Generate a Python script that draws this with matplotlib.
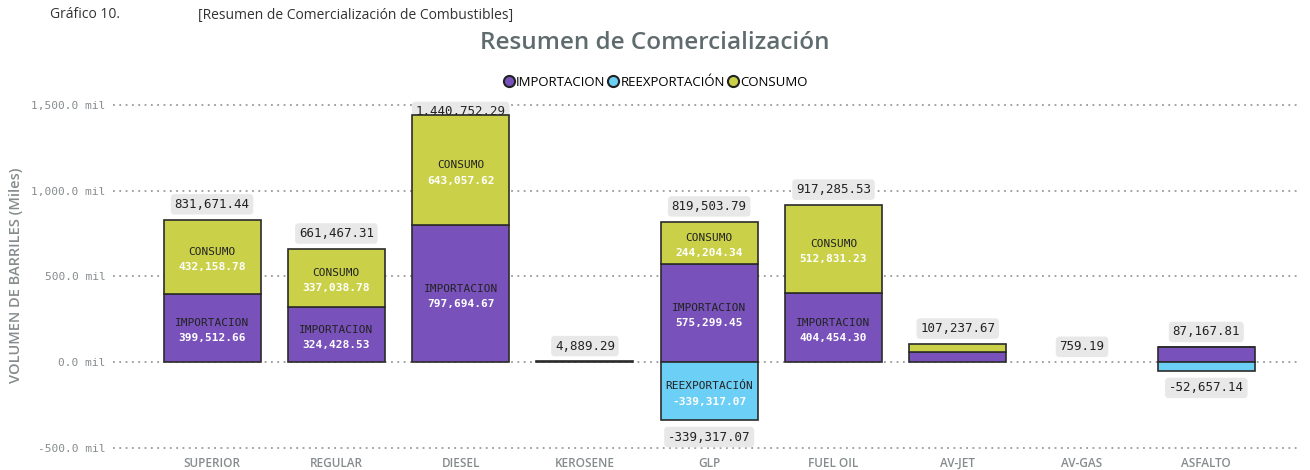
import matplotlib
matplotlib.use("Agg")
import matplotlib.pyplot as plt
from matplotlib.lines import Line2D
from matplotlib.ticker import FuncFormatter
import numpy as np

# data (barriles)
categorias = ["SUPERIOR", "REGULAR", "DIESEL", "KEROSENE", "GLP", "FUEL OIL", "AV-JET", "AV-GAS", "ASFALTO"]
importacion = [399512.66, 324428.53, 797694.67, 0.0, 575299.45, 404454.30, 59000.0, 0.0, 86000.0]
consumo = [432158.78, 337038.78, 643057.62, 4889.29, 244204.34, 512831.23, 48237.67, 759.19, 1167.81]
reexportacion = [0.0, 0.0, 0.0, 0.0, -339317.07, 0.0, 0.0, 0.0, -52657.14]
y_ticks = [-500000, 0, 500000, 1000000, 1500000]

c_imp = "#7851ba"
c_reex = "#6ccff6"
c_cons = "#cad148"
edge = "#2b2b2b"
grey = "#868b8d"
mono = "DejaVu Sans Mono"
sans = "Open Sans"

fig = plt.figure(figsize=(13.1, 4.7), dpi=100)
ax = fig.add_axes([0.086, 0.0396, 0.906, 0.748])

x = np.arange(len(categorias))
w = 0.78
imp = np.array(importacion)
cons = np.array(consumo)
reex = np.array(reexportacion)

# no edge on empty / tiny segments
def edges(vals):
    return [edge if abs(v) > 1000 else "none" for v in vals]

ax.bar(x, imp, w, color=c_imp, edgecolor=edges(imp), linewidth=1.2, zorder=3)
ax.bar(x, cons, w, bottom=imp, color=c_cons, edgecolor=edges(cons), linewidth=1.2, zorder=3)
ax.bar(x, reex, w, color=c_reex, edgecolor=edges(reex), linewidth=1.2, zorder=3)

# segment labels (only big enough segments)
def seg_label(xi, y0, h, name, val):
    if abs(h) < 150000:
        return
    yc = y0 + h / 2
    ax.annotate(name, (xi, yc), xytext=(0, 3.5), textcoords="offset points",
                ha="center", va="center", fontsize=8, family=mono, color="#222222", zorder=5)
    ax.annotate(f"{val:,.2f}", (xi, yc), xytext=(0, -7.5), textcoords="offset points",
                ha="center", va="center", fontsize=8, family=mono, color="white",
                fontweight="bold", zorder=5)

for i in range(len(categorias)):
    seg_label(x[i], 0, imp[i], "IMPORTACION", imp[i])
    seg_label(x[i], imp[i], cons[i], "CONSUMO", cons[i])
    seg_label(x[i], 0, reex[i], "REEXPORTACIÓN", reex[i])

box = dict(boxstyle="round,pad=0.3", fc="#e8e8e8", ec="none")
totales = imp + cons
for i in range(len(categorias)):
    y_lab = min(totales[i], 1370000)
    ax.annotate(f"{totales[i]:,.2f}", (x[i], y_lab), xytext=(0, 11), textcoords="offset points",
                ha="center", va="center", fontsize=9, family=mono, color="#222222",
                bbox=box, zorder=2)
    if reex[i] < 0:
        ax.annotate(f"{reex[i]:,.2f}", (x[i], reex[i]), xytext=(0, -12), textcoords="offset points",
                    ha="center", va="center", fontsize=9, family=mono, color="#222222",
                    bbox=box, zorder=2)

ax.set_xlim(-0.8, 8.75)
ax.set_ylim(-520000, 1530000)
ax.set_yticks(y_ticks)
ax.yaxis.set_major_formatter(FuncFormatter(lambda v, p: f"{v/1000:,.1f} mil"))
ax.set_xticks(x)
ax.set_xticklabels(categorias)
for t in ax.get_yticklabels():
    t.set_fontfamily(mono)
    t.set_fontsize(8)
    t.set_color(grey)
for t in ax.get_xticklabels():
    t.set_fontfamily(sans)
    t.set_fontsize(8.5)
    t.set_color(grey)
    t.set_fontweight("semibold")
ax.tick_params(length=0, pad=5)
ax.tick_params(axis="x", pad=4)
ax.grid(axis="y", color="#9a9a9a", linestyle=(0, (1, 2.5)), linewidth=1.3, zorder=0)
ax.set_axisbelow(True)
for s in ax.spines.values():
    s.set_visible(False)

ax.set_ylabel("VOLUMEN DE BARRILES (Miles)", fontsize=10.5, family=sans, color=grey,
              fontweight="semibold", labelpad=6)

fig.text(50 / 1310, 1 - 15 / 470, "Gráfico 10.", fontsize=10, family=sans, color="#333333", va="center")
fig.text(198 / 1310, 1 - 15 / 470, "[Resumen de Comercialización de Combustibles]", fontsize=10,
         family=sans, color="#333333", va="center")
fig.text(0.5, 1 - 43 / 470, "Resumen de Comercialización", fontsize=17.5, family=sans,
         color="#5f6b6d", fontweight="semibold", ha="center", va="center")

handles = [Line2D([], [], marker="o", linestyle="none", markersize=8, markerfacecolor=c,
                  markeredgecolor="#222222", markeredgewidth=1.5)
           for c in [c_imp, c_reex, c_cons]]
fig.legend(handles, ["IMPORTACION", "REEXPORTACIÓN", "CONSUMO"], loc="center",
           bbox_to_anchor=(0.5, 1 - 82 / 470), ncol=3, frameon=False, handletextpad=0.05,
           columnspacing=0.1, prop={"family": sans, "size": 9.5}, handlelength=1.0)

fig.savefig("out.png", dpi=100)
